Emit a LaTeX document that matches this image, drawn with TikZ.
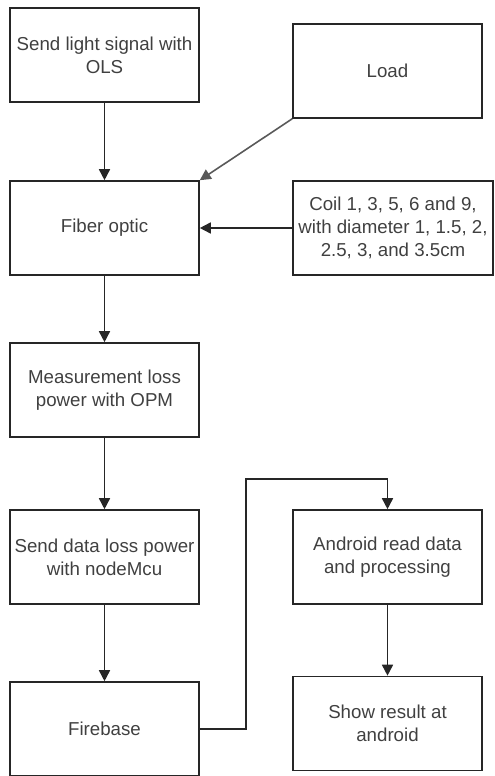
\documentclass[tikz,border=0pt]{standalone}
\usepackage{fontspec}
\setmainfont{Liberation Sans}
\usetikzlibrary{arrows.meta}
\begin{document}
\begin{tikzpicture}[x=1pt,y=-1pt,
  box/.style={draw=black!85, line width=1.6pt, minimum width=189pt, minimum height=94pt,
    inner sep=0pt, align=center, text=black!75, font=\fontsize{18.7}{23}\selectfont},
  conn/.style={draw=black!85, line width=1.6pt, -{Triangle[length=11pt,width=11pt]}},
  gconn/.style={conn, draw=black!65}
]
\useasboundingbox (0,0) rectangle (495,776);
\node[box] (ols) at (104.5,55) {Send light signal with\\OLS};
\node[box] (load) at (387.5,71) {Load};
\node[box] (fiber) at (104.5,228) {Fiber optic};
\node[box, minimum width=200pt] (coil) at (393,228) {Coil 1, 3, 5, 6 and 9,\\with diameter 1, 1.5, 2,\\2.5, 3, and 3.5cm};
\node[box] (opm) at (104.5,390) {Measurement loss\\power with OPM};
\node[box] (node) at (104.5,557) {Send data loss power\\with nodeMcu};
\node[box] (fb) at (104.5,729) {Firebase};
\node[box] (andr) at (387.5,557) {Android read data\\and processing};
\node[box] (show) at (387.5,723.5) {Show result at\\android};
\coordinate (elb) at (246,479);

\draw[conn] (ols) -- (fiber);
\draw[gconn] (load.south west) -- (fiber.north east);
\draw[conn] (coil) -- (fiber);
\draw[conn] (fiber) -- (opm);
\draw[conn] (opm) -- (node);
\draw[conn] (node) -- (fb);
\draw[conn] (fb.east) -| (elb) -| (andr.north);
\draw[conn] (andr) -- (show);
\end{tikzpicture}
\end{document}
